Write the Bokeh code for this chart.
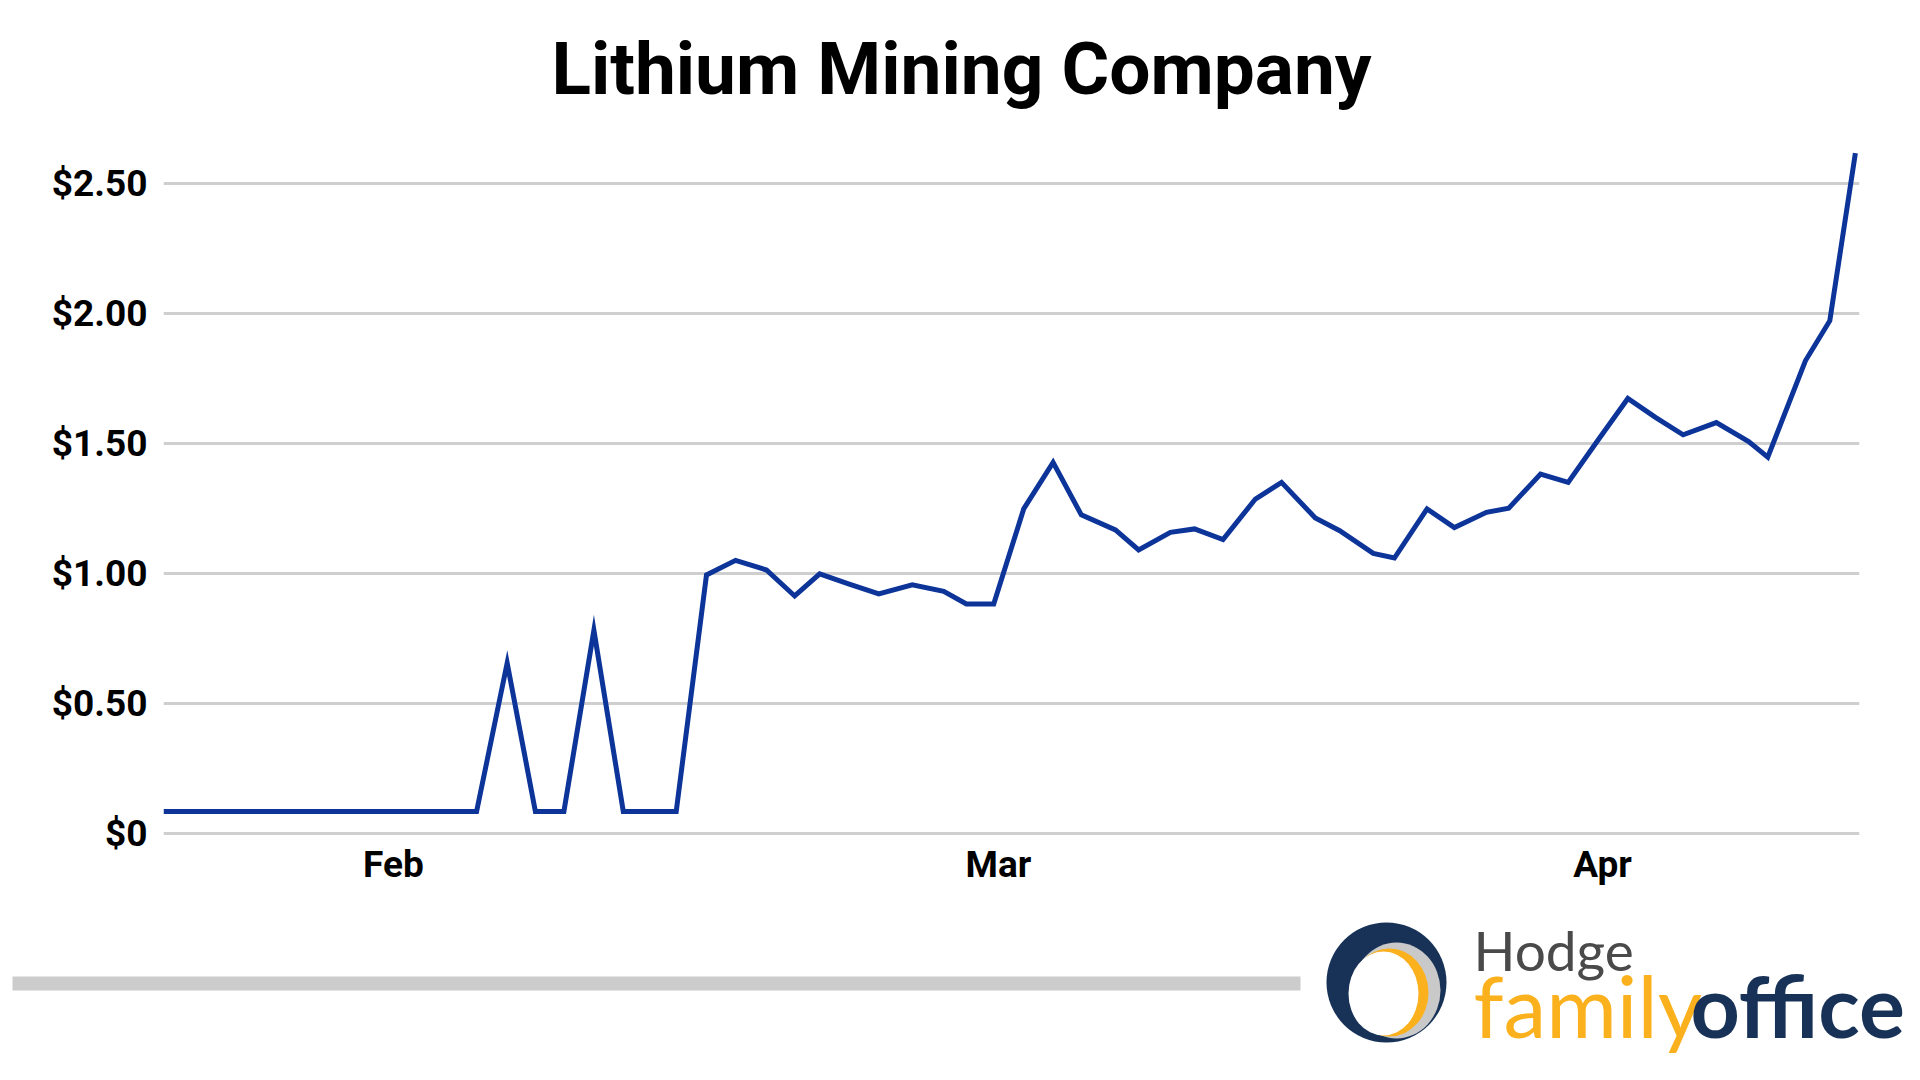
from bokeh.plotting import figure
from bokeh.layouts import column
from bokeh.models import Range1d, FixedTicker
from bokeh.core.properties import value
from bokeh.embed import file_html
from bokeh.resources import INLINE

# ---- data ----
session = [0, 10.65, 11.69, 12.65, 13.62, 14.64, 15.64, 16.53, 17.44, 18.47, 19.46,
           20.51, 21.47, 22.32, 23.30, 24.33, 25.47, 26.54, 27.31, 28.24, 29.26,
           30.26, 31.22, 32.38, 33.17, 34.25, 35.07, 36.04, 37.14, 38.03, 39.18,
           40.01, 41.15, 41.87, 42.98, 43.91, 45.00, 45.76, 46.84, 47.78, 48.78,
           49.81, 50.75, 51.69, 52.82, 53.92, 54.57, 55.85, 56.68, 57.55]
price = [0.084, 0.084, 0.655, 0.084, 0.084, 0.781, 0.084, 0.084, 0.084, 0.994, 1.05,
         1.013, 0.913, 0.998, 0.96, 0.921, 0.956, 0.931, 0.882, 0.882, 1.248,
         1.427, 1.225, 1.167, 1.09, 1.158, 1.171, 1.13, 1.286, 1.35, 1.213,
         1.164, 1.077, 1.059, 1.248, 1.176, 1.235, 1.251, 1.382, 1.35, 1.51,
         1.673, 1.60, 1.533, 1.58, 1.507, 1.447, 1.818, 1.972, 2.617]
month_positions = [7.82, 28.40, 48.95]
month_labels = ["Feb", "Mar", "Apr"]
y_ticks = [0, 0.5, 1.0, 1.5, 2.0, 2.5]
y_tick_labels = ["$0", "$0.50", "$1.00", "$1.50", "$2.00", "$2.50"]
title_text = "Lithium Mining Company"

W = 1904


def blank(height):
    f = figure(width=W, height=height, x_range=Range1d(0, W), y_range=Range1d(0, height),
               output_backend="svg", toolbar_location=None, min_border=0, frame_align=False)
    f.axis.visible = False
    f.grid.visible = False
    f.outline_line_color = None
    return f


# ---- header with title ----
header = blank(118)
header.text(x=[961], y=[50], text=[title_text], text_font=value("Roboto"),
            text_font_style="bold", text_font_size="73px", text_color="#000000",
            text_align="center", text_baseline="alphabetic")

# ---- main chart ----
p = figure(frame_width=1696, frame_height=720, x_range=Range1d(0, 57.69),
           y_range=Range1d(-0.02, 2.75), output_backend="svg", toolbar_location=None,
           min_border_left=163, min_border_right=45, min_border_top=0, min_border_bottom=70,
           frame_align=False)
p.outline_line_color = None
p.line(session, price, line_color="#0c3499", line_width=5, line_join="miter")

p.xgrid.visible = False
p.ygrid.grid_line_color = "#cfcfcf"
p.ygrid.grid_line_width = 3
p.ygrid.ticker = FixedTicker(ticks=y_ticks)

p.yaxis.ticker = FixedTicker(ticks=y_ticks)
p.yaxis.major_label_overrides = {t: s for t, s in zip(y_ticks, y_tick_labels)}
p.xaxis.ticker = FixedTicker(ticks=month_positions)
p.xaxis.major_label_overrides = {t: s for t, s in zip(month_positions, month_labels)}
for ax in (p.xaxis[0], p.yaxis[0]):
    ax.axis_line_color = None
    ax.major_tick_line_color = None
    ax.minor_tick_line_color = None
    ax.major_label_text_font = "Roboto"
    ax.major_label_text_font_style = "bold"
    ax.major_label_text_font_size = "37px"
    ax.major_label_text_color = "#000000"
p.yaxis.major_label_standoff = 10
p.xaxis.major_label_standoff = -2

# ---- footer with bar and logo ----
footer = blank(164)
footer.quad(left=[12], right=[1300], bottom=[82], top=[96], fill_color="#cccccc", line_color=None)
footer.ellipse(x=[1386], y=[90], width=[120], height=[120], fill_color="#183257", line_color=None)
footer.ellipse(x=[1396], y=[82], width=[88], height=[96], fill_color="#c9c9c9", line_color=None)
footer.ellipse(x=[1389], y=[80], width=[78], height=[88], fill_color="#fbb11d", line_color=None)
footer.ellipse(x=[1383], y=[79], width=[70], height=[84], fill_color="#ffffff", line_color=None)
footer.text(x=[1473], y=[123], text=["Hodge"], text_font=value("Lato"), text_font_size="55px",
            text_color="#4a4a4a", text_baseline="alphabetic")
footer.text(x=[1473], y=[68], text=["family"], text_font=value("Lato"), text_font_size="86px",
            text_color="#fbb11d", text_baseline="alphabetic")
footer.text(x=[1690], y=[68], text=["office"], text_font=value("Lato"), text_font_style="bold",
            text_font_size="86px", text_color="#183257", text_baseline="alphabetic")

layout = column(header, p, footer, spacing=0)
open("out.html", "w").write(file_html(layout, INLINE))
